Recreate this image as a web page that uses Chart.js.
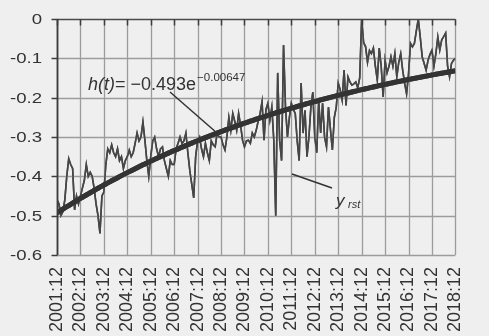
<!DOCTYPE html>
<html>
<head>
<meta charset="utf-8">
<script src="https://cdn.jsdelivr.net/npm/chart.js@4/dist/chart.umd.min.js"></script>
<style>
  html, body { margin: 0; padding: 0; background: #efefef; }
  #wrap { position: relative; width: 489px; height: 336px; }
</style>
</head>
<body>
<div id="wrap"><canvas id="c"></canvas></div>
<script>
// Year-end tick labels (every 12 months, starting 2001:12)
const tickLabels = ['2001:12','2002:12','2003:12','2004:12','2005:12','2006:12',
  '2007:12','2008:12','2009:12','2010:12','2011:12','2012:12','2013:12',
  '2014:12','2015:12','2016:12','2017:12','2018:12'];

// Value-axis labels, from 0 down to -0.6
const yTickLabels = ['0','-0.1','-0.2','-0.3','-0.4','-0.5','-0.6'];

// Monthly y_rst series, 2001:12 .. 2018:12 (one row per year)
const yRst = [
  -0.46,-0.47,-0.50,-0.49,-0.46,-0.40,-0.355,-0.37,-0.38,-0.485,-0.45,-0.47,
  -0.45,-0.43,-0.41,-0.37,-0.40,-0.39,-0.40,-0.43,-0.47,-0.50,-0.545,-0.45,
  -0.44,-0.37,-0.33,-0.34,-0.32,-0.34,-0.35,-0.33,-0.36,-0.35,-0.38,-0.36,
  -0.35,-0.333,-0.35,-0.34,-0.316,-0.29,-0.31,-0.30,-0.262,-0.308,-0.36,-0.40,
  -0.35,-0.31,-0.30,-0.33,-0.35,-0.33,-0.325,-0.36,-0.38,-0.40,-0.36,-0.37,
  -0.37,-0.33,-0.316,-0.30,-0.316,-0.31,-0.29,-0.34,-0.385,-0.42,-0.455,-0.35,
  -0.31,-0.30,-0.33,-0.35,-0.316,-0.34,-0.36,-0.31,-0.32,-0.325,-0.29,-0.30,
  -0.30,-0.32,-0.333,-0.30,-0.25,-0.283,-0.24,-0.26,-0.283,-0.24,-0.27,-0.308,
  -0.325,-0.31,-0.308,-0.316,-0.29,-0.30,-0.283,-0.26,-0.24,-0.21,-0.308,-0.23,
  -0.214,-0.257,-0.224,-0.308,-0.50,-0.137,-0.308,-0.36,-0.066,-0.224,-0.30,-0.25,
  -0.214,-0.23,-0.24,-0.31,-0.36,-0.163,-0.29,-0.232,-0.35,-0.30,-0.224,-0.186,
  -0.30,-0.34,-0.206,-0.29,-0.214,-0.30,-0.325,-0.224,-0.28,-0.333,-0.25,-0.224,
  -0.163,-0.18,-0.206,-0.13,-0.22,-0.147,-0.16,-0.168,-0.165,-0.16,-0.175,-0.15,
  0,-0.06,-0.07,-0.11,-0.08,-0.088,-0.074,-0.12,-0.155,-0.074,-0.12,-0.198,
  -0.105,-0.137,-0.12,-0.096,-0.12,-0.088,-0.147,-0.11,-0.088,-0.13,-0.163,-0.19,
  -0.14,-0.062,-0.071,-0.062,-0.03,0,-0.046,-0.096,-0.113,-0.13,-0.105,-0.09,
  -0.079,-0.12,-0.088,-0.046,-0.079,-0.053,-0.045,-0.036,-0.12,-0.147,-0.113,-0.105,
  -0.10
];

// Fitted trend h(t) = A * e^(B t), t in months from 2001:12
const H_A = -0.493;
const H_B = -0.00647;
const months = yRst.map((_, i) => i);
const hFit = months.map(t => H_A * Math.exp(H_B * t));

const GRID = '#9c9c9c';
const DARK = '#3c3c3c';
const FONT = "'Liberation Sans', Arial, sans-serif";

// tick positions on each axis, in axis units
const xTickValues = tickLabels.map((_, k) => k * 12);
const yTickValues = yTickLabels.map((_, k) => -k / 10);

const frame = {
  id: 'frame',
  afterDraw(chart) {
    const { ctx, chartArea: a, scales: { x, y } } = chart;
    const half = v => Math.round(v) + 0.5;
    const top = y.getPixelForValue(0);
    const bottom = y.getPixelForValue(-0.6);
    const left = x.getPixelForValue(0);
    const right = x.getPixelForValue(204);

    ctx.save();
    // grid
    ctx.strokeStyle = GRID;
    ctx.lineWidth = 1.3;
    xTickValues.forEach(v => {
      const px = half(x.getPixelForValue(v));
      ctx.beginPath(); ctx.moveTo(px, top); ctx.lineTo(px, bottom); ctx.stroke();
    });
    yTickValues.forEach(v => {
      if (v === 0) return;
      const py = half(y.getPixelForValue(v));
      ctx.beginPath(); ctx.moveTo(left, py); ctx.lineTo(right, py); ctx.stroke();
    });
    ctx.restore();

    // series painted over the grid
    chart._drawDatasets();

    ctx.save();
    // zero line with hanging tick marks
    const y0 = half(top);
    ctx.strokeStyle = '#4a4a4a';
    ctx.lineWidth = 1.5;
    ctx.beginPath(); ctx.moveTo(left, y0); ctx.lineTo(right, y0); ctx.stroke();
    ctx.strokeStyle = DARK;
    xTickValues.forEach(v => {
      const px = half(x.getPixelForValue(v));
      ctx.beginPath(); ctx.moveTo(px, y0); ctx.lineTo(px, y0 + 6); ctx.stroke();
    });

    // value axis line and its tick marks
    const x0 = half(left);
    ctx.lineWidth = 1.8;
    ctx.beginPath(); ctx.moveTo(x0, y0); ctx.lineTo(x0, bottom); ctx.stroke();
    ctx.lineWidth = 1.5;
    yTickValues.forEach(v => {
      const py = half(y.getPixelForValue(v));
      ctx.beginPath(); ctx.moveTo(x0 - 6, py); ctx.lineTo(x0, py); ctx.stroke();
    });

    // value-axis labels
    ctx.fillStyle = '#333';
    ctx.font = '15px ' + FONT;
    ctx.textAlign = 'right';
    ctx.textBaseline = 'middle';
    yTickLabels.forEach((lab, k) => {
      const py = y.getPixelForValue(yTickValues[k]);
      ctx.save();
      ctx.translate(42, py + 1);
      ctx.scale(1.24, 1);
      ctx.fillText(lab, 0, 0);
      ctx.restore();
    });

    // trend equation label with leader line
    ctx.textAlign = 'left';
    ctx.textBaseline = 'alphabetic';
    let tx = 88;
    const base = 90;
    ctx.font = 'italic 18px ' + FONT;
    ctx.fillText('h(t)', tx, base);
    tx += ctx.measureText('h(t)').width;
    ctx.font = '18px ' + FONT;
    ctx.fillText('= \u22120.493e', tx, base);
    tx += ctx.measureText('= \u22120.493e').width + 1;
    ctx.font = '11.5px ' + FONT;
    ctx.fillText('\u22120.00647', tx, base - 9);

    ctx.strokeStyle = '#333';
    ctx.lineWidth = 1.5;
    ctx.beginPath();
    ctx.moveTo(170, 92);
    ctx.lineTo(217, 133);
    ctx.stroke();

    // series label with leader line
    ctx.beginPath();
    ctx.moveTo(292, 174);
    ctx.lineTo(332, 188);
    ctx.stroke();
    ctx.font = 'italic 17px ' + FONT;
    ctx.fillText('y', 336, 206);
    ctx.font = 'italic 11px ' + FONT;
    ctx.fillText('rst', 348, 208);
    ctx.restore();
  }
};

new Chart(document.getElementById('c'), {
  type: 'line',
  data: {
    datasets: [
      {
        label: 'y_rst',
        data: months.map(i => ({ x: i, y: yRst[i] })),
        borderColor: '#464646',
        borderWidth: 1.6,
        pointRadius: 0,
        tension: 0,
        order: 2
      },
      {
        label: 'h(t)',
        data: months.map(i => ({ x: i, y: hFit[i] })),
        borderColor: '#333333',
        borderWidth: 5,
        pointRadius: 0,
        tension: 0,
        order: 1
      }
    ]
  },
  options: {
    responsive: true,
    maintainAspectRatio: false,
    animation: false,
    layout: { padding: { top: 19, right: 9.5, left: 0, bottom: 0 } },
    plugins: { legend: { display: false }, tooltip: { enabled: false } },
    scales: {
      x: {
        type: 'linear',
        min: 0,
        max: 204,
        afterFit: s => { s.height = 81; },
        ticks: {
          stepSize: 12,
          autoSkip: false,
          maxRotation: 90,
          minRotation: 90,
          padding: 12,
          color: '#333',
          font: { family: FONT, size: 18 },
          callback: v => tickLabels[Math.round(v / 12)]
        },
        grid: { display: false, drawTicks: false },
        border: { display: false }
      },
      y: {
        type: 'linear',
        min: -0.6,
        max: 0,
        afterFit: s => { s.width = 57; },
        ticks: {
          stepSize: 0.1,
          color: 'rgba(0,0,0,0)',
          font: { family: FONT, size: 15 },
          callback: v => yTickLabels[Math.round(-v * 10)]
        },
        grid: { display: false },
        border: { display: false }
      }
    }
  },
  plugins: [frame]
});
</script>
</body>
</html>
